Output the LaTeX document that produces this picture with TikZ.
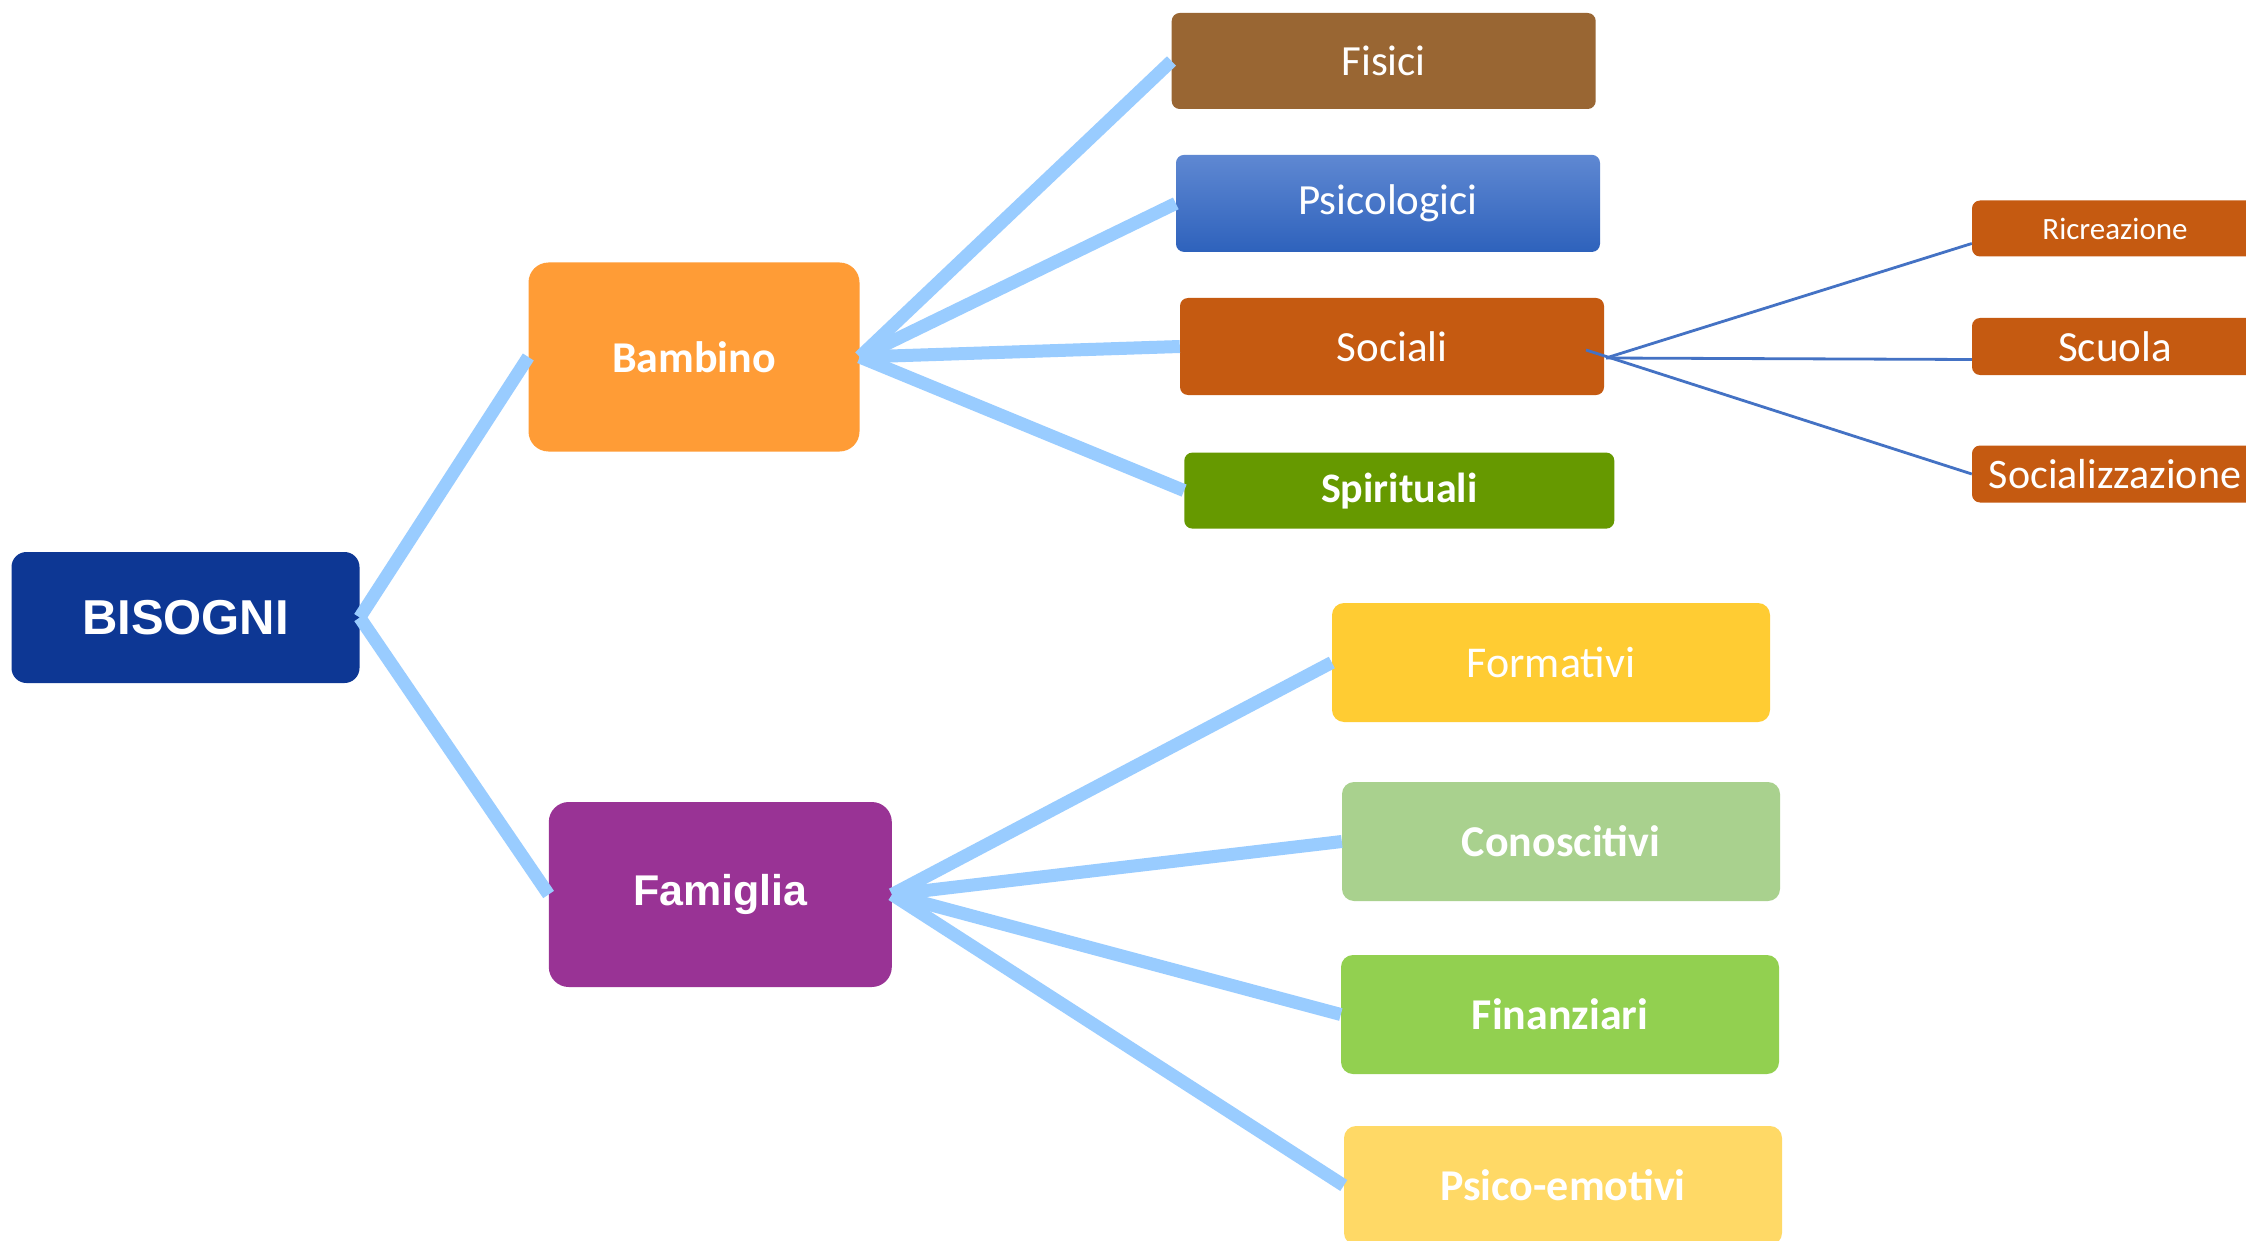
\documentclass[tikz,border=0pt]{standalone}
\usepackage{fontspec}
\setmainfont{Carlito}
\newfontfamily\arialf{Liberation Sans}
\usetikzlibrary{calc}
\definecolor{bisblue}{HTML}{0D3794}
\definecolor{bamorange}{HTML}{FF9C36}
\definecolor{fampurple}{HTML}{993395}
\definecolor{fisbrown}{HTML}{996633}
\definecolor{psitop}{HTML}{5F88D2}
\definecolor{psibot}{HTML}{2E62BC}
\definecolor{socorange}{HTML}{C55A11}
\definecolor{spigreen}{HTML}{669900}
\definecolor{foryellow}{HTML}{FFCC33}
\definecolor{conlgreen}{HTML}{A9D18E}
\definecolor{fingreen}{HTML}{92D050}
\definecolor{psiyellow}{HTML}{FFD966}
\definecolor{connblue}{HTML}{99CCFF}
\definecolor{thinblue}{HTML}{4472C4}
\newcommand\fsz[1]{\fontsize{#1pt}{#1pt}\selectfont}
\begin{document}
\begin{tikzpicture}[x=1pt,y=-1pt,
  box/.style={rounded corners=8pt, inner sep=0pt, text=white, align=center},
  bigconn/.style={draw=connblue, line width=13pt, line cap=butt},
  smallconn/.style={draw=thinblue, line width=2.8pt}]
\useasboundingbox (0,0) rectangle (2246,1241);
\clip (0,0) rectangle (2246,1241);
\fill[white] (0,0) rectangle (2246,1241);

% level 0
\node[box, fill=bisblue, rounded corners=15pt, minimum width=348pt, minimum height=131pt,
  font=\arialf\bfseries\fsz{49}] (bis) at (185.5,617.5) {BISOGNI};

% level 1
\node[box, fill=bamorange, rounded corners=20pt, minimum width=331pt, minimum height=189pt,
  font=\bfseries\fsz{44}] (bam) at (694,357) {Bambino};
\node[box, fill=fampurple, rounded corners=20pt, minimum width=343pt, minimum height=185pt,
  font=\arialf\bfseries\fsz{43}] (fam) at (720.3,894.5) {Famiglia};

% level 2 (Bambino)
\node[box, fill=fisbrown, minimum width=424pt, minimum height=96pt, font=\fsz{43}]
  (fis) at (1383.7,61) {Fisici};
\node[box, top color=psitop, bottom color=psibot, minimum width=424pt, minimum height=97pt, font=\fsz{43}]
  (psi) at (1388,203.4) {Psicologici};
\node[box, fill=socorange, minimum width=424pt, minimum height=97pt, font=\fsz{43}]
  (soc) at (1392,346.5) {Sociali};
\node[box, fill=spigreen, minimum width=430pt, minimum height=76pt, font=\bfseries\fsz{42}]
  (spi) at (1399.3,490.6) {Spirituali};

% level 3 (Sociali)
\node[box, fill=socorange, minimum width=286pt, minimum height=56pt, font=\fsz{31}]
  (ric) at (2115,228.5) {Ricreazione};
\node[box, fill=socorange, minimum width=286pt, minimum height=57pt, font=\fsz{43}]
  (scu) at (2115,346.5) {Scuola};
\node[box, fill=socorange, minimum width=286pt, minimum height=57pt, font=\fsz{42}]
  (sz) at (2115,474) {Socializzazione};

% level 2 (Famiglia)
\node[box, fill=foryellow, rounded corners=12pt, minimum width=438pt, minimum height=119pt, font=\fsz{44}]
  (for) at (1551,662.5) {Formativi};
\node[box, fill=conlgreen, rounded corners=12pt, minimum width=438pt, minimum height=119pt, font=\bfseries\fsz{44}]
  (con) at (1561,841.5) {Conoscitivi};
\node[box, fill=fingreen, rounded corners=12pt, minimum width=438pt, minimum height=119pt, font=\bfseries\fsz{44}]
  (fin) at (1560,1014.5) {Finanziari};
\node[box, fill=psiyellow, rounded corners=12pt, minimum width=438pt, minimum height=119pt, font=\bfseries\fsz{44}]
  (pse) at (1563,1185.5) {Psico-emotivi};

% thick connectors
\draw[bigconn] (bis.east) -- (bam.west);
\draw[bigconn] (bis.east) -- (fam.west);
\draw[bigconn] (bam.east) -- (fis.west);
\draw[bigconn] (bam.east) -- (psi.west);
\draw[bigconn] (bam.east) -- (soc.west);
\draw[bigconn] (bam.east) -- (spi.west);
\draw[bigconn] (fam.east) -- (for.west);
\draw[bigconn] (fam.east) -- (con.west);
\draw[bigconn] (fam.east) -- (fin.west);
\draw[bigconn] (fam.east) -- (pse.west);

% thin connectors
\coordinate (hub) at (1606,358);
\coordinate (stub) at (1586,350);
\draw[smallconn] (hub) -- ($(ric.west)+(0,15)$);
\draw[smallconn] (hub) -- ($(scu.west)+(0,13)$);
\draw[smallconn] (stub) -- (sz.west);
\end{tikzpicture}
\end{document}
